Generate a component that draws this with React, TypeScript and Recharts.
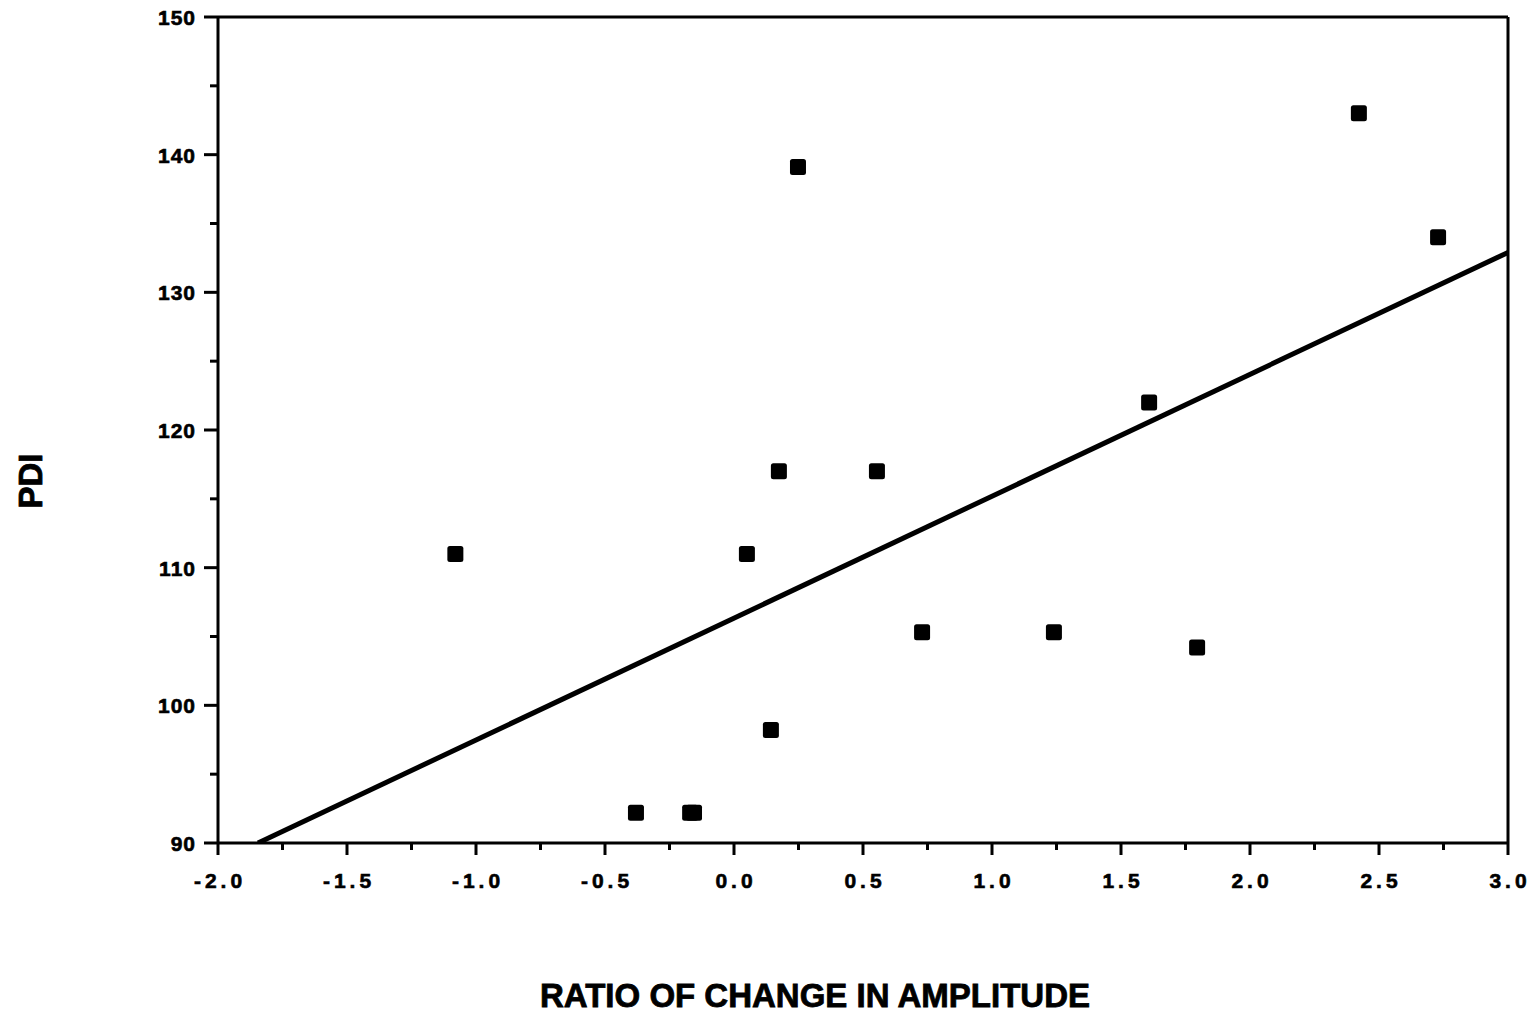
import { ScatterChart, Scatter, XAxis, YAxis, ReferenceLine, Label } from 'recharts';

// observed points (ratio of change in amplitude vs PDI)
const ratioValues = [-1.08, -0.38, -0.17, -0.155, 0.05, 0.143, 0.174, 0.248, 0.554, 0.729, 1.24, 1.609, 1.795, 2.422, 2.729];
const pdiValues = [111, 92.2, 92.2, 92.2, 111, 98.2, 117, 139.1, 117, 105.3, 105.3, 122, 104.2, 143, 134];

// fitted regression line end points
const fitX = [-1.845, 3.0];
const fitY = [90, 132.9];

const xTicks = [-2, -1.75, -1.5, -1.25, -1, -0.75, -0.5, -0.25, 0, 0.25, 0.5, 0.75, 1, 1.25, 1.5, 1.75, 2, 2.25, 2.5, 2.75, 3];
const yTicks = [90, 95, 100, 105, 110, 115, 120, 125, 130, 135, 140, 145, 150];

const xTitle = 'RATIO OF CHANGE IN AMPLITUDE';
const yTitle = 'PDI';

const FONT = '"Liberation Sans", Arial, Helvetica, sans-serif';

const points = ratioValues.map((x, i) => ({ x, y: pdiValues[i] }));
const fitLine = fitX.map((x, i) => ({ x, y: fitY[i] }));

const isMult = (v: number, step: number) => Math.abs(v / step - Math.round(v / step)) < 1e-6;

const XTick = ({ x, y, payload }: any) => {
  const major = isMult(payload.value, 0.5);
  return (
    <g>
      <line x1={x} x2={x} y1={y} y2={y + (major ? 12 : 7)} stroke="#000" strokeWidth={3} />
      {major && (
        <text x={x + 2} y={y + 45} textAnchor="middle" fontFamily={FONT} fontWeight="bold" fontSize={21} letterSpacing={4} fill="#000" stroke="#000" strokeWidth={0.6}>
          {payload.value.toFixed(1)}
        </text>
      )}
    </g>
  );
};

const YTick = ({ x, y, payload }: any) => {
  const major = isMult(payload.value, 10);
  return (
    <g>
      <line x1={x - (major ? 14 : 8)} x2={x} y1={y} y2={y} stroke="#000" strokeWidth={3} />
      {major && (
        <text x={x - 22} y={y + 8} textAnchor="end" fontFamily={FONT} fontWeight="bold" fontSize={21} letterSpacing={1} fill="#000" stroke="#000" strokeWidth={0.6}>
          {payload.value}
        </text>
      )}
    </g>
  );
};

const Marker = ({ cx, cy }: any) => (
  <rect x={cx - 8} y={cy - 8} width={16} height={16} rx={2.5} fill="#000" />
);

export default function App() {
  return (
    <div style={{ position: 'absolute', left: 0, top: 0, background: '#fff' }}>
      <ScatterChart width={1537} height={1013} margin={{ top: 17, right: 29, bottom: 0, left: 0 }}>
        <XAxis
          type="number"
          dataKey="x"
          domain={[-2, 3]}
          ticks={xTicks}
          interval={0}
          allowDataOverflow
          height={170}
          stroke="#000"
          strokeWidth={3}
          tickLine={false}
          tickSize={0}
          tickMargin={0}
          tick={<XTick />}
        >
          <Label
            content={({ viewBox }: any) => (
              <text x={viewBox.x + viewBox.width / 2 - 48} y={viewBox.y + viewBox.height - 6} textAnchor="middle" fontFamily={FONT} fontWeight="bold" fontSize={33} fill="#000" stroke="#000" strokeWidth={0.8}>
                {xTitle}
              </text>
            )}
          />
        </XAxis>
        <YAxis
          type="number"
          dataKey="y"
          domain={[90, 150]}
          ticks={yTicks}
          interval={0}
          allowDataOverflow
          width={218}
          stroke="#000"
          strokeWidth={3}
          tickLine={false}
          tickSize={0}
          tickMargin={0}
          tick={<YTick />}
        >
          <Label
            content={({ viewBox }: any) => {
              const cx = 30;
              const cy = viewBox.y + viewBox.height / 2 + 51;
              return (
                <text x={cx} y={cy} transform={`rotate(-90 ${cx} ${cy})`} textAnchor="middle" dominantBaseline="central" fontFamily={FONT} fontWeight="bold" fontSize={33} fill="#000" stroke="#000" strokeWidth={0.8}>
                  {yTitle}
                </text>
              );
            }}
          />
        </YAxis>
        <ReferenceLine y={150} stroke="#000" strokeWidth={3} />
        <ReferenceLine x={3} stroke="#000" strokeWidth={3} />
        <Scatter data={fitLine} line={{ stroke: '#000', strokeWidth: 5 }} shape={() => <g />} isAnimationActive={false} legendType="none" />
        <Scatter data={points} shape={<Marker />} isAnimationActive={false} />
      </ScatterChart>
    </div>
  );
}
